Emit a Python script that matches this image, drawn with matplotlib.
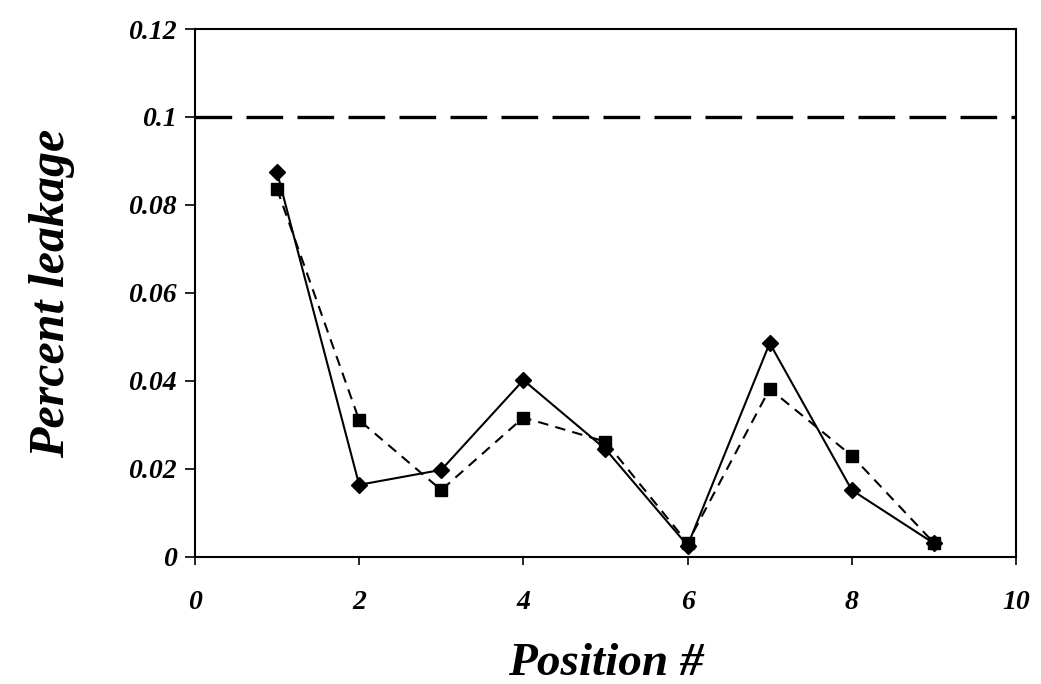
import matplotlib
matplotlib.use("Agg")
import matplotlib.pyplot as plt

positions = [1, 2, 3, 4, 5, 6, 7, 8, 9]
series_diamond = [0.0874, 0.0164, 0.0198, 0.0402, 0.0245, 0.0026, 0.0486, 0.0152, 0.0031]
series_square = [0.0836, 0.0311, 0.0152, 0.0317, 0.0262, 0.0032, 0.0382, 0.0230, 0.0032]
threshold = 0.1
x_ticks = [0, 2, 4, 6, 8, 10]
y_ticks = [0, 0.02, 0.04, 0.06, 0.08, 0.1, 0.12]
y_tick_labels = ["0", "0.02", "0.04", "0.06", "0.08", "0.1", "0.12"]

plt.rcParams['font.family'] = ['Liberation Serif', 'DejaVu Serif']

fig = plt.figure(figsize=(10.41, 6.84), dpi=100)
ax = fig.add_axes([0.1873, 0.1857, 0.976 - 0.1873, 0.9576 - 0.1857])

ax.plot(positions, series_diamond, color='black', lw=1.5, marker='D', ms=8.5,
        markerfacecolor='black', markeredgecolor='black', zorder=3)
ax.plot(positions, series_square, color='black', lw=1.5, ls=(0, (5, 3.5)), marker='s', ms=8,
        markerfacecolor='black', markeredgecolor='black', zorder=3)
ax.plot([0, 10], [threshold, threshold], color='black', lw=2.4, ls=(0, (11, 4.3)), zorder=2)

ax.set_xlim(0, 10)
ax.set_ylim(0, 0.12)
ax.set_xticks(x_ticks)
ax.set_xticklabels([str(t) for t in x_ticks])
ax.set_yticks(y_ticks)
ax.set_yticklabels(y_tick_labels)

for sp in ax.spines.values():
    sp.set_linewidth(1.5)

ax.tick_params(axis='x', direction='out', length=6, width=1.2, pad=18)
ax.tick_params(axis='y', direction='out', length=7, width=1.2, pad=6)
for lab in ax.get_xticklabels() + ax.get_yticklabels():
    lab.set_fontsize(20)
    lab.set_fontweight('bold')
    lab.set_fontstyle('italic')

ax.set_xlabel('Position #', fontsize=34, fontweight='bold', fontstyle='italic', labelpad=20)
ax.set_ylabel('Percent leakage', fontsize=36, fontweight='bold', fontstyle='italic', labelpad=38)

fig.savefig('out.png', dpi=100)
